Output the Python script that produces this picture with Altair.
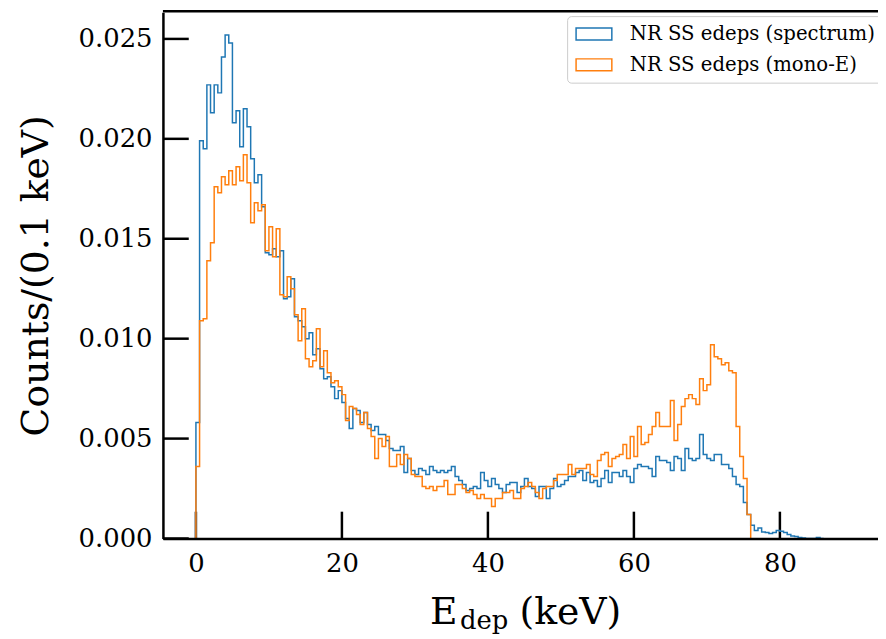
import altair as alt
import pandas as pd

BIN_WIDTH = 0.5  # keV per histogram bin
LABEL_SPEC = "NR SS edeps (spectrum)"
LABEL_MONO = "NR SS edeps (mono-E)"
COLORS = ["#1f77b4", "#ff7f0e"]

# bin contents, starting at 0 keV, one value per 0.5 keV bin
spectrum = [
    0.0058, 0.0199, 0.0195, 0.0227, 0.0213, 0.0227, 0.0223, 0.0241, 0.0252, 0.0248,
    0.0208, 0.0214, 0.0196, 0.0215, 0.0206, 0.0190, 0.0178, 0.0182, 0.0166, 0.0143,
    0.0142, 0.0145, 0.0141, 0.0144, 0.0120, 0.0121, 0.0130, 0.0111, 0.0109, 0.0106,
    0.0100, 0.0103, 0.0092, 0.0095, 0.0085, 0.0080, 0.0081, 0.0076, 0.0070, 0.0074,
    0.0068, 0.0060, 0.0055, 0.0065, 0.0064, 0.0058, 0.0063, 0.0057, 0.0054, 0.0056,
    0.0052, 0.0052, 0.0049, 0.0045, 0.0044, 0.0044, 0.0046, 0.0033, 0.0040, 0.0034,
    0.0032, 0.0035, 0.0034, 0.0032, 0.0036, 0.0034, 0.0033, 0.0034, 0.0033, 0.0034,
    0.0036, 0.0031, 0.0029, 0.0027, 0.0024, 0.0025, 0.0026, 0.0025, 0.0033, 0.0029,
    0.0026, 0.0030, 0.0027, 0.0025, 0.0023, 0.0027, 0.0028, 0.0028, 0.0023, 0.0026,
    0.0030, 0.0026, 0.0025, 0.0021, 0.0026, 0.0026, 0.0020, 0.0025, 0.0030, 0.0026,
    0.0027, 0.0029, 0.0031, 0.0031, 0.0033, 0.0034, 0.0029, 0.0033, 0.0028, 0.0029,
    0.0026, 0.0030, 0.0034, 0.0028, 0.0033, 0.0033, 0.0031, 0.0034, 0.0031, 0.0028,
    0.0035, 0.0037, 0.0036, 0.0036, 0.0035, 0.0031, 0.0041, 0.0039, 0.0039, 0.0038,
    0.0034, 0.0041, 0.0040, 0.0034, 0.0045, 0.0040, 0.0039, 0.0040, 0.0052, 0.0042,
    0.0040, 0.0039, 0.0042, 0.0042, 0.0037, 0.0037, 0.0035, 0.0031, 0.0027, 0.0026,
    0.0018, 0.0012, 0.00066, 0.0004, 0.00053, 0.00033, 0.0003, 0.00025, 0.0003, 0.0004,
    0.00036, 0.0003, 0.0002, 0.00013, 0.0001, 0.00005, 0.00003, 0.0, 0.0, 0.0,
    0.00005, 0.0,
]

mono_e = [
    0.0036, 0.0109, 0.0110, 0.0139, 0.0148, 0.0176, 0.0173, 0.0181, 0.0177, 0.0184,
    0.0177, 0.0186, 0.0179, 0.0192, 0.0178, 0.0158, 0.0168, 0.0164, 0.0167, 0.0144,
    0.0156, 0.0141, 0.0155, 0.0122, 0.0121, 0.0131, 0.0125, 0.0112, 0.0099, 0.0115,
    0.0090, 0.0086, 0.0089, 0.0105, 0.0086, 0.0094, 0.0083, 0.0078, 0.0079, 0.0076,
    0.0072, 0.0059, 0.0066, 0.0065, 0.0062, 0.0057, 0.0063, 0.0055, 0.0051, 0.0040,
    0.0050, 0.0046, 0.0051, 0.0036, 0.0036, 0.0042, 0.0037, 0.0042, 0.0040, 0.0032,
    0.0031, 0.0031, 0.0026, 0.0025, 0.0026, 0.0024, 0.0026, 0.0026, 0.0029, 0.0022,
    0.0022, 0.0027, 0.0027, 0.0025, 0.0023, 0.0024, 0.0022, 0.0020, 0.0022, 0.0020,
    0.0020, 0.0016, 0.0020, 0.0020, 0.0023, 0.0023, 0.0024, 0.0020, 0.0020, 0.0025,
    0.0026, 0.0028, 0.0026, 0.0023, 0.0020, 0.0025, 0.0026, 0.0026, 0.0029, 0.0032,
    0.0032, 0.0032, 0.0037, 0.0032, 0.0035, 0.0035, 0.0035, 0.0037, 0.0032, 0.0031,
    0.0039, 0.0042, 0.0043, 0.0036, 0.0040, 0.0041, 0.0042, 0.0047, 0.0040, 0.0051,
    0.0041, 0.0056, 0.0047, 0.0048, 0.0052, 0.0056, 0.0063, 0.0056, 0.0056, 0.0056,
    0.0069, 0.0049, 0.0057, 0.0066, 0.0070, 0.0072, 0.0070, 0.0067, 0.0080, 0.0074,
    0.0077, 0.0097, 0.0091, 0.0090, 0.0087, 0.0088, 0.0084, 0.0083, 0.0056, 0.0041,
    0.0030, 0.0012,
]

x_ticks = [0, 20, 40, 60, 80]
y_ticks = [0.000, 0.005, 0.010, 0.015, 0.020, 0.025]
X_DOMAIN = [-4.52, 93.44]
Y_DOMAIN = [0.0, 0.02634]
W, H = 720, 530
FONT = "DejaVu Serif"


def step_table(vals, label):
    rows = [{"x": 0.0, "y": 0.0, "i": 0, "s": label}]
    for k, v in enumerate(vals):
        rows.append({"x": k * BIN_WIDTH, "y": v, "i": k + 1, "s": label})
    rows.append({"x": len(vals) * BIN_WIDTH, "y": 0.0, "i": len(vals) + 1, "s": label})
    return pd.DataFrame(rows)


xscale = alt.Scale(domain=X_DOMAIN, nice=False, zero=False)
yscale = alt.Scale(domain=Y_DOMAIN, nice=False)
cscale = alt.Scale(domain=[LABEL_SPEC, LABEL_MONO], range=COLORS)

legend = alt.Legend(
    title=None, orient="none", legendX=407, legendY=4,
    symbolType="M-2,-0.66L2,-0.66L2,0.66L-2,0.66Z", symbolSize=324,
    symbolOffset=9, symbolStrokeWidth=1.5, symbolFillColor="transparent",
    labelFont=FONT, labelFontSize=19.8, labelColor="black", labelOffset=26,
    labelLimit=400, fillColor="white", strokeColor="#cccccc", cornerRadius=4,
    padding=8, rowPadding=11,
)

x_axis = alt.Axis(values=x_ticks, title=None, labelPadding=12, labelFlush=False, zindex=1)
y_axis = alt.Axis(values=y_ticks, format=".3f", title="Counts/(0.1 keV)",
                  labelPadding=11, titlePadding=23, titleFontSize=38,
                  labelFlush=False, zindex=1)


def hist_layer(vals, label):
    return alt.Chart(step_table(vals, label)).mark_line(
        interpolate="step-after", strokeWidth=1.5, clip=True
    ).encode(
        x=alt.X("x:Q", scale=xscale, axis=x_axis),
        y=alt.Y("y:Q", scale=yscale, axis=y_axis),
        color=alt.Color("s:N", scale=cscale, legend=legend),
        order=alt.Order("i:Q"),
    )


blue = hist_layer(spectrum, LABEL_SPEC)
orange = hist_layer(mono_e, LABEL_MONO)

xt = alt.Chart(pd.DataFrame({"t": x_ticks})).mark_rule(color="black", strokeWidth=2.5).encode(
    x=alt.X("t:Q", scale=xscale, axis=x_axis), y=alt.value(H), y2=alt.value(H - 27)
)
yt = alt.Chart(pd.DataFrame({"v": y_ticks})).mark_rule(color="black", strokeWidth=2.5).encode(
    y=alt.Y("v:Q", scale=yscale, axis=y_axis), x=alt.value(0), x2=alt.value(26)
)
top_spine = alt.Chart(pd.DataFrame({"k": [0]})).mark_rule(color="black", strokeWidth=2.5).encode(
    x=alt.value(0), x2=alt.value(W + 10), y=alt.value(-1)
)


def label_text(txt, px, py, size):
    return alt.Chart(pd.DataFrame({"t": [txt]})).mark_text(
        align="left", baseline="alphabetic", font=FONT, fontSize=size, color="black"
    ).encode(text="t:N", x=alt.value(px), y=alt.value(py))


xtitle = (label_text("E", 269, 616, 38)
          + label_text("dep", 299, 621, 26)
          + label_text("(keV)", 359, 616, 38))

chart = alt.layer(xt, yt, blue, orange, top_spine, xtitle).properties(
    width=W, height=H,
    autosize=alt.AutoSizeParams(type="none"),
    padding={"left": 156, "top": 2, "right": 0, "bottom": 96},
).configure_view(stroke=None).configure_axis(
    grid=False, ticks=False, domainColor="black", domainWidth=2.5,
    labelColor="black", labelFont=FONT, labelFontSize=26,
    titleColor="black", titleFont=FONT, titleFontWeight="normal",
)

chart.save("out.html", embed_options={"renderer": "svg", "actions": False})
